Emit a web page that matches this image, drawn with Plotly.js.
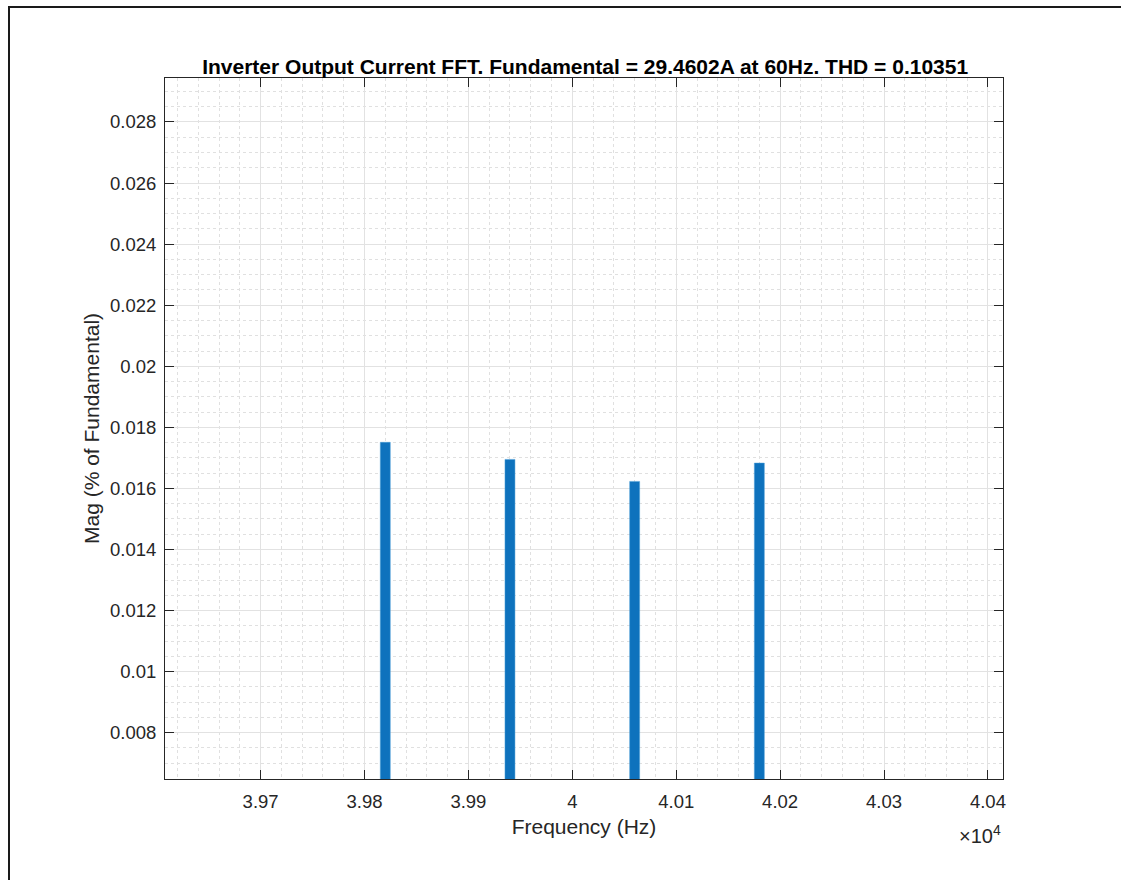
<!DOCTYPE html>
<html>
<head>
<meta charset="utf-8">
<script src="https://cdn.plot.ly/plotly-3.0.1.min.js"></script>
<style>
html,body{margin:0;padding:0;background:#fff;}
#chart{position:absolute;left:0;top:0;width:1121px;height:880px;}
#frame{position:absolute;left:8px;top:6px;width:1121px;height:880px;border-left:2px solid #1a1a1a;border-top:2px solid #1a1a1a;pointer-events:none;}
</style>
</head>
<body>
<div id="chart"></div>
<div id="frame"></div>
<script>
const freqHz = [39820, 39940, 40060, 40180];
const magPct = [0.01751, 0.01695, 0.01623, 0.01683];
const xTickVals = [39700, 39800, 39900, 40000, 40100, 40200, 40300, 40400];
const xTickText = ['3.97', '3.98', '3.99', '4', '4.01', '4.02', '4.03', '4.04'];
const yTickVals = [0.008, 0.010, 0.012, 0.014, 0.016, 0.018, 0.020, 0.022, 0.024, 0.026, 0.028];
const yTickText = ['0.008', '0.01', '0.012', '0.014', '0.016', '0.018', '0.02', '0.022', '0.024', '0.026', '0.028'];
const titleText = 'Inverter Output Current FFT. Fundamental = 29.4602A at 60Hz. THD = 0.10351';

const font = 'Liberation Sans, Arial, Helvetica, sans-serif';
const axisCommon = {
  showline: true, linecolor: '#262626', linewidth: 1, mirror: 'ticks',
  ticks: 'inside', ticklen: 9, tickcolor: '#262626', tickwidth: 1,
  showgrid: true, gridcolor: '#e2e2e2', gridwidth: 1,
  zeroline: false,
  tickfont: {family: font, size: 18.5, color: '#262626'}
};

const data = [{
  type: 'bar', x: freqHz, y: magPct, width: 9.6,
  marker: {color: '#0e72bd', line: {color: '#4a9fd8', width: 0.5}},
  hoverinfo: 'x+y'
}];

const layout = {
  width: 1121, height: 880,
  paper_bgcolor: '#ffffff', plot_bgcolor: '#ffffff',
  margin: {l: 165, r: 118, t: 78, b: 101},
  showlegend: false,
  title: {text: '<b>' + titleText + '</b>', x: 0.522, xanchor: 'center', y: 0.924, yanchor: 'middle',
          font: {family: font, size: 21, color: '#000000'}},
  xaxis: Object.assign({}, axisCommon, {
    range: [39608, 40414.5], tickmode: 'array', tickvals: xTickVals, ticktext: xTickText,
    ticklabelstandoff: 6,
    minor: {dtick: 20, tick0: 0, showgrid: true, gridcolor: '#e0e0e0', griddash: 'dot', gridwidth: 1, ticks: ''},
    title: {text: 'Frequency (Hz)', font: {family: font, size: 21, color: '#262626'}, standoff: 8}
  }),
  yaxis: Object.assign({}, axisCommon, {
    range: [0.006484, 0.02944], tickmode: 'array', tickvals: yTickVals, ticktext: yTickText,
    ticklabelstandoff: 4,
    minor: {dtick: 0.0005, tick0: 0, showgrid: true, gridcolor: '#e0e0e0', griddash: 'dot', gridwidth: 1, ticks: ''},
    title: {text: 'Mag (% of Fundamental)', font: {family: font, size: 21, color: '#262626'}, standoff: 4}
  }),
  annotations: [{
    xref: 'paper', yref: 'paper', x: 1.0, y: -0.058, xanchor: 'right', yanchor: 'top',
    text: '×10<sup>4</sup>', showarrow: false,
    font: {family: font, size: 20, color: '#262626'}
  }]
};

Plotly.newPlot('chart', data, layout, {displayModeBar: false, staticPlot: false});
</script>
</body>
</html>
